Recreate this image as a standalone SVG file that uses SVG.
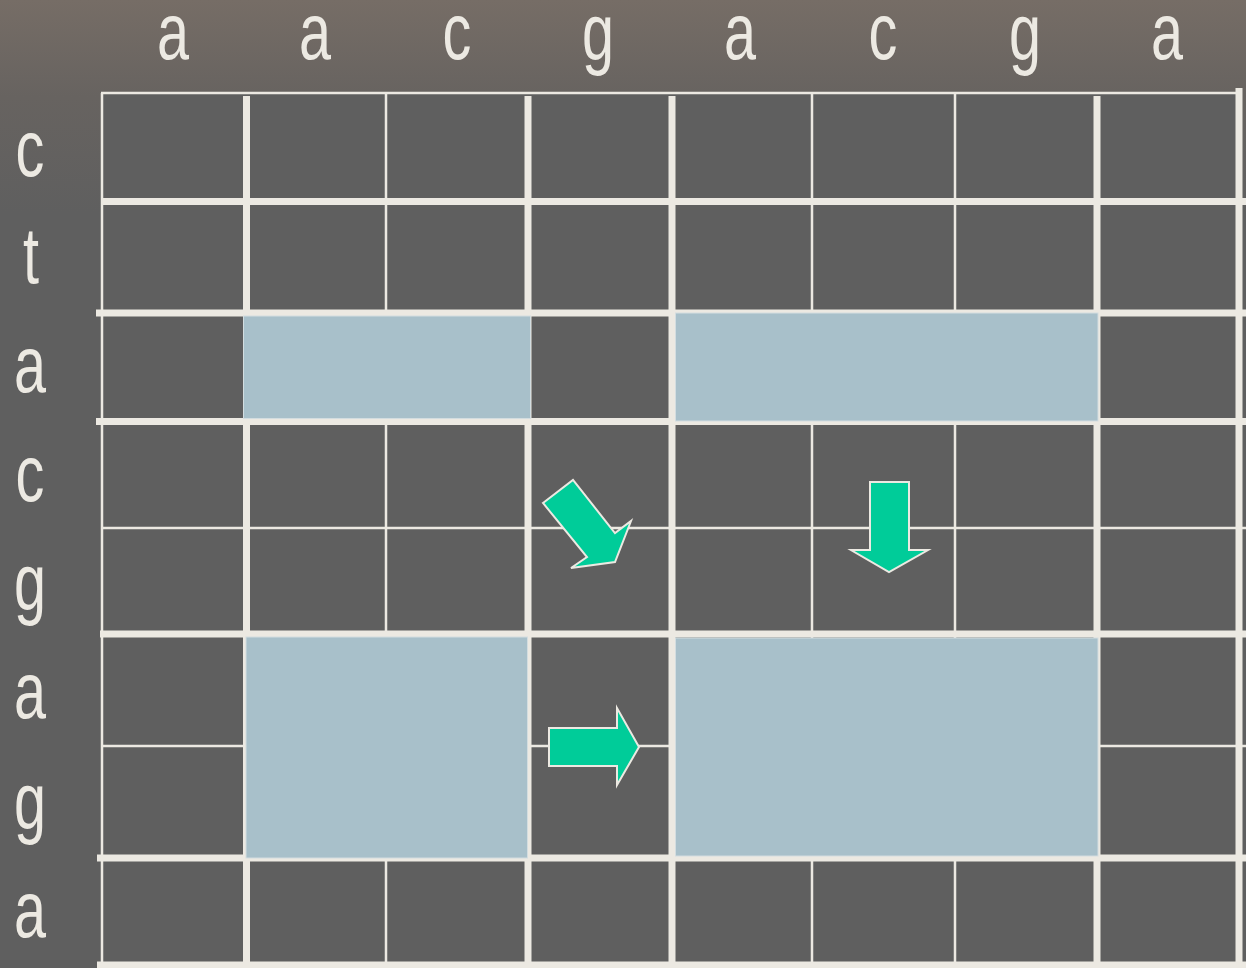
<svg xmlns="http://www.w3.org/2000/svg" width="1246" height="968" viewBox="0 0 1246 968">
  <defs>
    <linearGradient id="bg" x1="0" y1="0" x2="0" y2="968" gradientUnits="userSpaceOnUse">
      <stop offset="0" stop-color="#766d66"/>
      <stop offset="0.1" stop-color="#676360"/>
      <stop offset="0.22" stop-color="#5f5f5f"/>
      <stop offset="1" stop-color="#5f5f5f"/>
    </linearGradient>
    <style>
      .lbl { font-family: "Liberation Sans", Arial, sans-serif; font-size: 80px; fill: #ece9e2; text-anchor: middle; }
      .thin { stroke: #ece9e2; stroke-width: 2.5; fill: none; }
      .thick { stroke: #ece9e2; stroke-width: 7; fill: none; }
      .hl { fill: #a8c0ca; stroke: #d3dde0; stroke-width: 1; }
      .arrow { fill: #00cc99; stroke: #ece9e2; stroke-width: 2; stroke-linejoin: miter; }
    </style>
  </defs>

  <rect x="0" y="0" width="1246" height="968" fill="url(#bg)"/>
  <rect x="102" y="93" width="1137" height="872" fill="#5f5f5f"/>

  <g id="column-labels">
    <text class="lbl" transform="translate(173,59) scale(0.72,1)">a</text>
    <text class="lbl" transform="translate(315,59) scale(0.72,1)">a</text>
    <text class="lbl" transform="translate(457,59) scale(0.72,1)">c</text>
    <text class="lbl" transform="translate(598,59) scale(0.72,1)">g</text>
    <text class="lbl" transform="translate(740,59) scale(0.72,1)">a</text>
    <text class="lbl" transform="translate(883,59) scale(0.72,1)">c</text>
    <text class="lbl" transform="translate(1025,59) scale(0.72,1)">g</text>
    <text class="lbl" transform="translate(1167,59) scale(0.72,1)">a</text>
  </g>

  <g id="row-labels">
    <text class="lbl" transform="translate(30,176) scale(0.72,1)">c</text>
    <text class="lbl" transform="translate(31,283) scale(0.72,1)">t</text>
    <text class="lbl" transform="translate(30,392) scale(0.72,1)">a</text>
    <text class="lbl" transform="translate(30,501) scale(0.72,1)">c</text>
    <text class="lbl" transform="translate(30,609) scale(0.72,1)">g</text>
    <text class="lbl" transform="translate(30,718) scale(0.72,1)">a</text>
    <text class="lbl" transform="translate(30,828) scale(0.72,1)">g</text>
    <text class="lbl" transform="translate(30,937) scale(0.72,1)">a</text>
  </g>

  <g id="grid">
    <line class="thin" x1="101" y1="93" x2="1238" y2="93"/>
    <line class="thin" x1="102" y1="93" x2="102" y2="968"/>
    <line class="thin" x1="386" y1="93" x2="386" y2="965"/>
    <line class="thin" x1="812" y1="93" x2="812" y2="965"/>
    <line class="thin" x1="955" y1="93" x2="955" y2="965"/>
    <line class="thin" x1="101" y1="528" x2="1246" y2="528"/>
    <line class="thin" x1="101" y1="746" x2="1246" y2="746"/>

    <line class="thick" x1="246.5" y1="96" x2="246.5" y2="968"/>
    <line class="thick" x1="528" y1="96" x2="528" y2="968"/>
    <line class="thick" x1="672" y1="96" x2="672" y2="968"/>
    <line class="thick" x1="1097" y1="96" x2="1097" y2="968"/>
    <line class="thick" x1="1239" y1="88" x2="1239" y2="968"/>

    <line class="thick" x1="102" y1="201.5" x2="1246" y2="201.5"/>
    <line class="thick" x1="96" y1="313" x2="1246" y2="313"/>
    <line class="thick" x1="96" y1="421.5" x2="1246" y2="421.5"/>
    <line class="thick" x1="100" y1="634" x2="1246" y2="634"/>
    <line class="thick" x1="97" y1="858" x2="1246" y2="858"/>
    <line class="thick" x1="97" y1="965" x2="1246" y2="965"/>
  </g>

  <g id="highlight-1"><rect class="hl" x="243.5" y="316" width="287" height="102.5"/></g>
  <g id="highlight-2"><rect class="hl" x="675.5" y="313" width="422.5" height="108"/></g>
  <g id="highlight-3"><rect class="hl" x="246" y="637" width="281.5" height="221"/></g>
  <g id="highlight-4"><rect class="hl" x="675.5" y="638" width="422.5" height="218"/></g>

  <g id="connectors">
    <polygon class="arrow" points="543,503 573,480 615,533 631,521 615,562 571,568 587,557"/>
    <polygon class="arrow" points="870,482 909,482 909,550 928,550 889,572 851,550 870,550"/>
    <polygon class="arrow" points="549,728 617,728 617,708 639,747 617,785 617,766 549,766"/>
  </g>
</svg>
